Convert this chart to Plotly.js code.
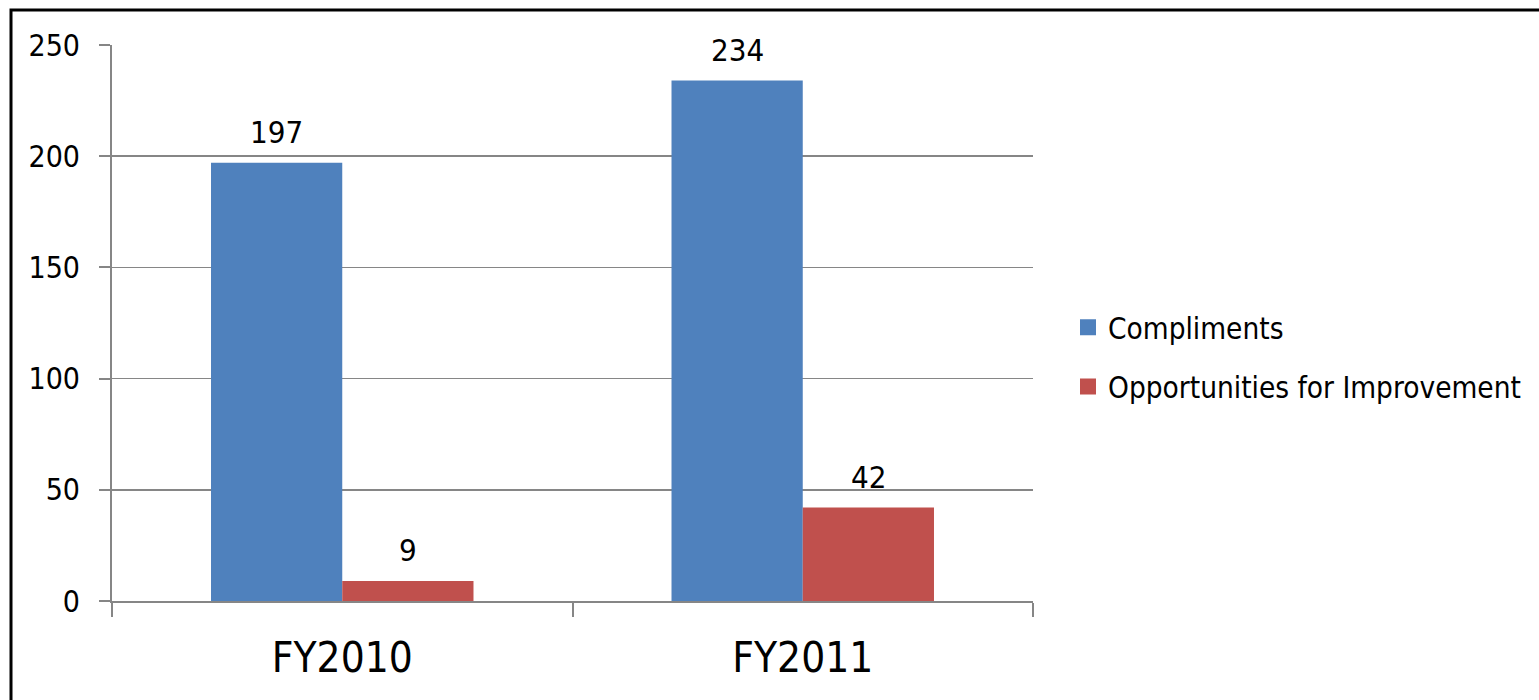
<!DOCTYPE html>
<html>
<head>
<meta charset="utf-8">
<script src="https://cdn.plot.ly/plotly-3.0.1.min.js"></script>
<style>
html,body{margin:0;padding:0;background:#fff;}
#chart{width:1539px;height:700px;}
</style>
</head>
<body>
<div id="chart"></div>
<script>
const categories = ["FY2010", "FY2011"];
const compliments = [197, 234];
const opportunities = [9, 42];
const seriesNames = ["Compliments", "Opportunities for Improvement"];
const seriesColors = ["#4f81bd", "#c0504d"];

const FONT = '"DejaVu Sans Condensed", "Liberation Sans Narrow", "Arial Narrow", sans-serif';
const W = 1539, H = 700;
const m = {l: 112, r: 506, t: 45, b: 99, autoexpand: false};
const pw = W - m.l - m.r, ph = H - m.t - m.b;
const px = x => (x - m.l) / pw;
const py = y => (H - m.b - y) / ph;
const BARGAP = 0.43;
const half = (1 - BARGAP) / 4;

const series = [compliments, opportunities];
const traces = [];
series.forEach((vals, i) => {
  traces.push({type: 'bar', name: seriesNames[i], x: categories, y: vals,
    marker: {color: seriesColors[i]}, showlegend: false});
});
series.forEach((vals, i) => {
  traces.push({type: 'scatter', mode: 'markers', name: seriesNames[i], x: [null], y: [null],
    legendgroup: 'g' + i,
    marker: {symbol: 'square', size: 18, color: seriesColors[i], line: {width: 0}}, showlegend: true});
});

const annotations = [];
series.forEach((vals, i) => {
  vals.forEach((v, j) => {
    annotations.push({xref: 'x', yref: 'y', x: j + (i === 0 ? -half : half), y: v,
      text: String(v), showarrow: false, yanchor: 'bottom', yshift: 11,
      font: {family: FONT, size: 31, color: '#000'}});
  });
});

const layout = {
  width: W, height: H,
  margin: m,
  paper_bgcolor: '#fff', plot_bgcolor: '#fff',
  barmode: 'group', bargap: BARGAP, bargroupgap: 0,
  font: {family: FONT, color: '#000'},
  showlegend: true,
  legend: {x: px(1068), xanchor: 'left', y: py(357), yanchor: 'middle',
           font: {family: FONT, size: 29.5, color: '#000'}, tracegroupgap: 18,
           traceorder: 'grouped', bgcolor: 'rgba(0,0,0,0)'},
  xaxis: {type: 'category', tickson: 'boundaries', ticks: 'outside', ticklen: 14,
          tickwidth: 2, tickcolor: '#868686', showline: true, linecolor: '#868686',
          linewidth: 2, showgrid: false, zeroline: false, range: [-0.5, 1.5],
          tickfont: {family: FONT, size: 42, color: '#000'}, ticklabelstandoff: 19, fixedrange: true},
  yaxis: {range: [0, 250], dtick: 50, ticks: 'outside', ticklen: 11, tickwidth: 2,
          tickcolor: '#868686', showline: true, linecolor: '#868686', linewidth: 2,
          showgrid: true, gridcolor: '#868686', gridwidth: 1.5, zeroline: false,
          tickfont: {family: FONT, size: 30, color: '#000'}, ticklabelstandoff: 13, fixedrange: true},
  annotations: annotations,
  shapes: [
    {type: 'rect', xref: 'paper', yref: 'paper', x0: px(11), x1: px(1542), y0: py(10), y1: py(704),
     line: {color: '#000', width: 3}, fillcolor: 'rgba(0,0,0,0)', layer: 'above'}
  ]
};

Plotly.newPlot('chart', traces, layout, {displayModeBar: false, staticPlot: true});
</script>
</body>
</html>
